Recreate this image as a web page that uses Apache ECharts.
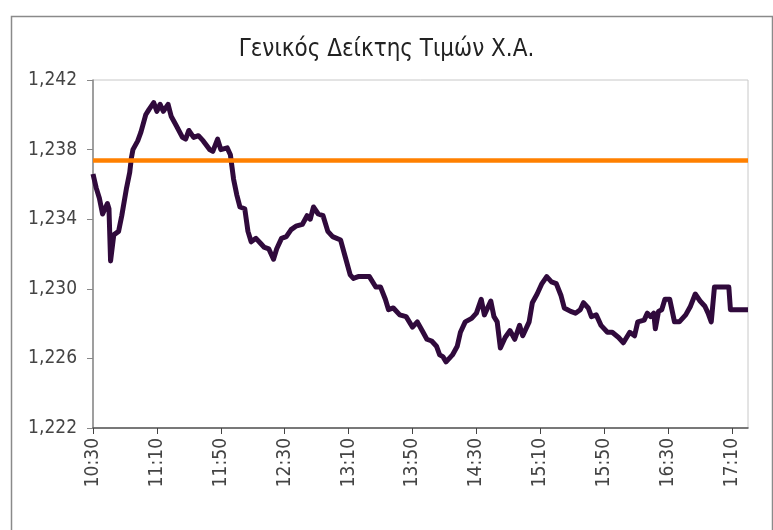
<!DOCTYPE html>
<html>
<head>
<meta charset="utf-8">
<script src="https://cdn.jsdelivr.net/npm/echarts@6/dist/echarts.min.js"></script>
<style>
html,body{margin:0;padding:0;background:#fff;}
#main{width:773px;height:530px;}
</style>
</head>
<body>
<div id="main"></div>
<script>
var titleText = "Γενικός Δείκτης Τιμών Χ.Α.";
var times = ["10:30","10:32","10:34","10:36","10:39","10:40","10:41","10:43","10:46","10:48","10:51","10:53","10:54","10:55","10:58","11:00","11:03","11:05","11:08","11:10","11:12","11:14","11:17","11:19","11:22","11:26","11:28","11:30","11:33","11:36","11:39","11:43","11:45","11:48","11:50","11:54","11:56","11:58","12:00","12:02","12:05","12:07","12:09","12:12","12:15","12:17","12:20","12:23","12:25","12:28","12:31","12:34","12:37","12:41","12:44","12:46","12:48","12:51","12:54","12:57","13:00","13:05","13:08","13:11","13:13","13:16","13:20","13:23","13:27","13:30","13:33","13:35","13:38","13:42","13:46","13:50","13:53","13:56","13:59","14:02","14:05","14:07","14:09","14:11","14:15","14:18","14:20","14:23","14:27","14:30","14:33","14:35","14:39","14:41","14:43","14:45","14:48","14:51","14:54","14:57","14:59","15:03","15:05","15:08","15:11","15:14","15:17","15:20","15:23","15:25","15:29","15:32","15:35","15:37","15:40","15:42","15:45","15:48","15:52","15:55","15:59","16:02","16:06","16:09","16:11","16:15","16:17","16:19","16:21","16:22","16:24","16:26","16:28","16:31","16:34","16:37","16:41","16:44","16:47","16:50","16:53","16:55","16:57","16:59","17:08","17:09","17:20"];
var values = [1236.6,1235.8,1235.2,1234.3,1234.9,1234.6,1231.6,1233.1,1233.3,1234.2,1235.8,1236.7,1237.5,1238.0,1238.5,1239.0,1240.0,1240.3,1240.7,1240.2,1240.6,1240.2,1240.6,1239.9,1239.4,1238.7,1238.6,1239.1,1238.7,1238.8,1238.5,1238.0,1237.9,1238.6,1238.0,1238.1,1237.7,1236.3,1235.4,1234.7,1234.6,1233.3,1232.7,1232.9,1232.6,1232.4,1232.3,1231.7,1232.3,1232.9,1233.0,1233.4,1233.6,1233.7,1234.2,1234.0,1234.7,1234.3,1234.2,1233.3,1233.0,1232.8,1231.8,1230.8,1230.6,1230.7,1230.7,1230.7,1230.1,1230.1,1229.4,1228.8,1228.9,1228.5,1228.4,1227.8,1228.1,1227.6,1227.1,1227.0,1226.7,1226.2,1226.1,1225.8,1226.2,1226.7,1227.5,1228.1,1228.3,1228.6,1229.4,1228.5,1229.3,1228.4,1228.1,1226.6,1227.2,1227.6,1227.1,1227.9,1227.3,1228.1,1229.2,1229.7,1230.3,1230.7,1230.4,1230.3,1229.6,1228.9,1228.7,1228.6,1228.8,1229.2,1228.9,1228.4,1228.5,1227.9,1227.5,1227.5,1227.2,1226.9,1227.5,1227.3,1228.1,1228.2,1228.6,1228.4,1228.6,1227.7,1228.7,1228.8,1229.4,1229.4,1228.1,1228.1,1228.5,1229.0,1229.7,1229.3,1229.0,1228.6,1228.1,1230.1,1230.1,1228.8,1228.8];
var prevClose = 1237.4;
var yMin = 1222, yMax = 1242, yStep = 4;
var sessionStart = "10:30", sessionEnd = "17:20", labelStep = 40;

function toMin(t){var p=t.split(":");return (+p[0])*60+(+p[1]);}
function fmtTime(m){var h=Math.floor(m/60), mm=m%60;return h+":"+(mm<10?"0":"")+mm;}
var t0 = toMin(sessionStart);
var seriesData = times.map(function(t,i){return [toMin(t)-t0, values[i]];});

var font = "'Liberation Sans Narrow','DejaVu Sans Condensed','Liberation Sans',sans-serif";
var chart = echarts.init(document.getElementById('main'), null, {renderer:'canvas'});
chart.setOption({
  animation:false,
  backgroundColor:'#fff',
  graphic:[{type:'rect', left:9, top:14, shape:{width:761, height:530}, style:{fill:'none', stroke:'#8a8a8a', lineWidth:1.5}, silent:true}],
  title:{text:titleText, left:'center', top:33, textStyle:{fontFamily:font, fontSize:24, fontWeight:'normal', color:'#222'}},
  grid:{left:93, right:25, top:80, bottom:102, show:true, borderColor:'#c8c8c8', borderWidth:1},
  xAxis:{type:'value', min:0, max:toMin(sessionEnd)-t0, interval:labelStep,
    axisLine:{show:true, onZero:false, lineStyle:{color:'#555', width:1.5}},
    axisTick:{show:true, length:6, inside:false, lineStyle:{color:'#444'}},
    splitLine:{show:false},
    axisLabel:{rotate:90, margin:10, fontFamily:font, fontSize:19, color:'#444',
      showMaxLabel:false,
      formatter:function(v){return fmtTime(t0+v);}}
  },
  yAxis:{type:'value', min:yMin, max:yMax, interval:yStep,
    axisLine:{show:true, lineStyle:{color:'#888', width:1.5}},
    axisTick:{show:true, length:6, lineStyle:{color:'#888'}},
    splitLine:{show:false},
    axisLabel:{margin:16, fontFamily:font, fontSize:19, color:'#444',
      formatter:function(v){return echarts.format.addCommas(v);}}
  },
  series:[{
    type:'line', data:seriesData, showSymbol:false, smooth:false,
    lineStyle:{color:'#300a3c', width:5, join:'round'},
    markLine:{silent:true, symbol:['none','none'], label:{show:false},
      lineStyle:{color:'#ff8000', width:4.5, type:'solid'},
      data:[{yAxis:prevClose}]}
  }]
});
</script>
</body>
</html>
